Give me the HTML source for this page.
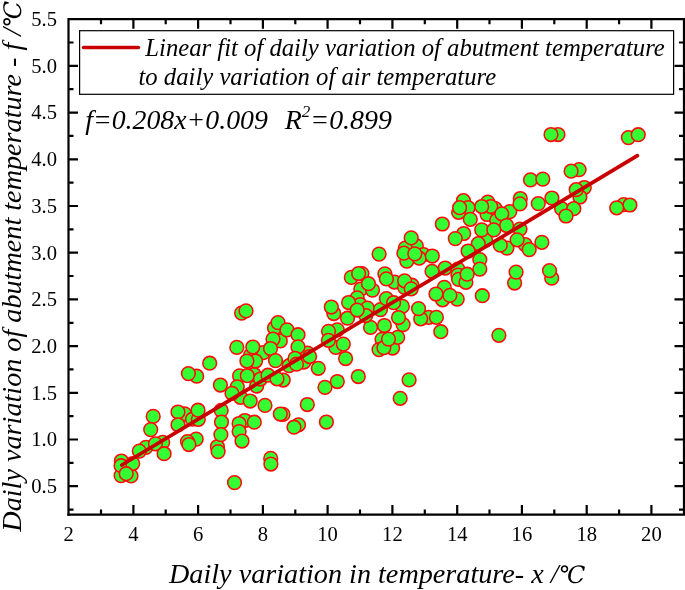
<!DOCTYPE html>
<html><head><meta charset="utf-8"><title>Linear fit</title>
<style>
html,body{margin:0;padding:0;background:#fff;}
svg{display:block;}
text{font-family:"Liberation Serif",serif;fill:#000;}
.it{font-style:italic;}
.tk{font-size:20.6px;}
.dc{font-family:"DejaVu Serif","Liberation Serif",serif;font-size:24px;}
</style></head><body>
<svg width="685" height="590" viewBox="0 0 685 590">
<rect width="685" height="590" fill="#fff"/>
<g fill="#33ff33" stroke="#ff0a0a" stroke-width="1.55">
<circle cx="121.4" cy="461.0" r="6.85"/><circle cx="121.1" cy="475.6" r="6.85"/><circle cx="131.0" cy="475.9" r="6.85"/><circle cx="145.9" cy="447.4" r="6.85"/><circle cx="162.7" cy="442.3" r="6.85"/><circle cx="184.6" cy="413.9" r="6.85"/><circle cx="192.4" cy="419.2" r="6.85"/><circle cx="198.3" cy="419.3" r="6.85"/><circle cx="196.2" cy="439.1" r="6.85"/><circle cx="187.5" cy="441.6" r="6.85"/><circle cx="217.4" cy="446.7" r="6.85"/><circle cx="244.8" cy="420.5" r="6.85"/><circle cx="283.0" cy="414.4" r="6.85"/><circle cx="298.5" cy="424.8" r="6.85"/><circle cx="270.7" cy="458.4" r="6.85"/><circle cx="240.5" cy="397.3" r="6.85"/><circle cx="256.7" cy="386.0" r="6.85"/><circle cx="241.6" cy="313.1" r="6.85"/><circle cx="274.5" cy="328.0" r="6.85"/><circle cx="280.3" cy="340.9" r="6.85"/><circle cx="263.2" cy="352.6" r="6.85"/><circle cx="250.4" cy="355.5" r="6.85"/><circle cx="289.1" cy="365.7" r="6.85"/><circle cx="239.6" cy="375.9" r="6.85"/><circle cx="254.0" cy="374.5" r="6.85"/><circle cx="283.2" cy="380.0" r="6.85"/><circle cx="237.3" cy="386.8" r="6.85"/><circle cx="196.7" cy="376.2" r="6.85"/><circle cx="337.3" cy="329.9" r="6.85"/><circle cx="335.8" cy="347.4" r="6.85"/><circle cx="382.0" cy="339.3" r="6.85"/><circle cx="379.0" cy="349.6" r="6.85"/><circle cx="392.6" cy="348.0" r="6.85"/><circle cx="397.7" cy="337.3" r="6.85"/><circle cx="333.8" cy="313.5" r="6.85"/><circle cx="307.4" cy="353.0" r="6.85"/><circle cx="303.8" cy="362.0" r="6.85"/><circle cx="351.3" cy="277.4" r="6.85"/><circle cx="361.9" cy="273.6" r="6.85"/><circle cx="360.8" cy="289.1" r="6.85"/><circle cx="372.5" cy="290.1" r="6.85"/><circle cx="384.9" cy="273.8" r="6.85"/><circle cx="357.2" cy="297.9" r="6.85"/><circle cx="360.1" cy="304.5" r="6.85"/><circle cx="367.4" cy="308.1" r="6.85"/><circle cx="380.5" cy="309.6" r="6.85"/><circle cx="445.2" cy="268.0" r="6.85"/><circle cx="457.9" cy="269.1" r="6.85"/><circle cx="457.9" cy="275.0" r="6.85"/><circle cx="458.6" cy="279.4" r="6.85"/><circle cx="465.9" cy="282.3" r="6.85"/><circle cx="394.4" cy="282.0" r="6.85"/><circle cx="404.6" cy="287.4" r="6.85"/><circle cx="411.9" cy="285.2" r="6.85"/><circle cx="444.3" cy="287.4" r="6.85"/><circle cx="457.2" cy="299.1" r="6.85"/><circle cx="442.6" cy="299.8" r="6.85"/><circle cx="428.7" cy="317.3" r="6.85"/><circle cx="402.4" cy="306.4" r="6.85"/><circle cx="403.1" cy="324.6" r="6.85"/><circle cx="463.4" cy="200.7" r="6.85"/><circle cx="468.1" cy="207.7" r="6.85"/><circle cx="458.6" cy="212.3" r="6.85"/><circle cx="487.8" cy="202.1" r="6.85"/><circle cx="487.1" cy="214.5" r="6.85"/><circle cx="463.7" cy="233.5" r="6.85"/><circle cx="485.6" cy="240.1" r="6.85"/><circle cx="416.3" cy="245.9" r="6.85"/><circle cx="405.3" cy="248.1" r="6.85"/><circle cx="423.6" cy="254.7" r="6.85"/><circle cx="579.1" cy="169.6" r="6.85"/><circle cx="520.3" cy="198.5" r="6.85"/><circle cx="584.3" cy="187.5" r="6.85"/><circle cx="579.9" cy="197.0" r="6.85"/><circle cx="561.6" cy="208.7" r="6.85"/><circle cx="495.2" cy="208.7" r="6.85"/><circle cx="509.8" cy="211.6" r="6.85"/><circle cx="496.7" cy="220.4" r="6.85"/><circle cx="520.0" cy="229.1" r="6.85"/><circle cx="506.9" cy="248.1" r="6.85"/><circle cx="525.1" cy="244.5" r="6.85"/><circle cx="514.6" cy="283.0" r="6.85"/><circle cx="551.7" cy="278.2" r="6.85"/><circle cx="628.4" cy="137.6" r="6.85"/><circle cx="558.0" cy="134.5" r="6.85"/><circle cx="623.7" cy="204.6" r="6.85"/><circle cx="629.9" cy="205.0" r="6.85"/><circle cx="121.1" cy="465.7" r="6.85"/><circle cx="132.7" cy="463.5" r="6.85"/><circle cx="126.2" cy="473.7" r="6.85"/><circle cx="139.3" cy="451.1" r="6.85"/><circle cx="155.4" cy="443.8" r="6.85"/><circle cx="164.1" cy="453.7" r="6.85"/><circle cx="153.2" cy="416.4" r="6.85"/><circle cx="150.7" cy="429.6" r="6.85"/><circle cx="178.0" cy="412.0" r="6.85"/><circle cx="178.0" cy="424.8" r="6.85"/><circle cx="198.0" cy="410.2" r="6.85"/><circle cx="188.9" cy="444.5" r="6.85"/><circle cx="221.2" cy="410.4" r="6.85"/><circle cx="221.5" cy="422.0" r="6.85"/><circle cx="220.9" cy="434.6" r="6.85"/><circle cx="218.1" cy="451.6" r="6.85"/><circle cx="239.1" cy="423.5" r="6.85"/><circle cx="239.1" cy="431.5" r="6.85"/><circle cx="242.0" cy="441.0" r="6.85"/><circle cx="254.3" cy="422.2" r="6.85"/><circle cx="250.2" cy="401.0" r="6.85"/><circle cx="265.0" cy="405.4" r="6.85"/><circle cx="280.3" cy="414.0" r="6.85"/><circle cx="294.0" cy="427.2" r="6.85"/><circle cx="270.9" cy="464.0" r="6.85"/><circle cx="232.0" cy="393.3" r="6.85"/><circle cx="220.4" cy="385.0" r="6.85"/><circle cx="246.0" cy="310.9" r="6.85"/><circle cx="278.0" cy="322.6" r="6.85"/><circle cx="287.0" cy="329.9" r="6.85"/><circle cx="273.0" cy="339.1" r="6.85"/><circle cx="298.0" cy="334.7" r="6.85"/><circle cx="298.0" cy="346.9" r="6.85"/><circle cx="236.8" cy="347.4" r="6.85"/><circle cx="252.8" cy="347.0" r="6.85"/><circle cx="270.5" cy="348.5" r="6.85"/><circle cx="255.5" cy="361.0" r="6.85"/><circle cx="275.5" cy="360.6" r="6.85"/><circle cx="209.7" cy="363.2" r="6.85"/><circle cx="295.0" cy="358.4" r="6.85"/><circle cx="296.5" cy="364.2" r="6.85"/><circle cx="247.3" cy="375.7" r="6.85"/><circle cx="260.5" cy="379.0" r="6.85"/><circle cx="268.0" cy="375.2" r="6.85"/><circle cx="277.0" cy="378.8" r="6.85"/><circle cx="188.4" cy="373.6" r="6.85"/><circle cx="328.5" cy="331.3" r="6.85"/><circle cx="328.4" cy="340.3" r="6.85"/><circle cx="343.3" cy="344.1" r="6.85"/><circle cx="345.6" cy="358.5" r="6.85"/><circle cx="318.3" cy="368.3" r="6.85"/><circle cx="358.3" cy="376.5" r="6.85"/><circle cx="337.3" cy="381.5" r="6.85"/><circle cx="325.0" cy="387.4" r="6.85"/><circle cx="307.3" cy="404.5" r="6.85"/><circle cx="400.2" cy="398.3" r="6.85"/><circle cx="370.5" cy="327.4" r="6.85"/><circle cx="384.4" cy="325.5" r="6.85"/><circle cx="383.9" cy="347.7" r="6.85"/><circle cx="347.5" cy="318.2" r="6.85"/><circle cx="365.8" cy="315.5" r="6.85"/><circle cx="398.5" cy="317.5" r="6.85"/><circle cx="309.6" cy="356.5" r="6.85"/><circle cx="379.1" cy="254.1" r="6.85"/><circle cx="358.6" cy="273.5" r="6.85"/><circle cx="368.4" cy="283.7" r="6.85"/><circle cx="386.4" cy="278.9" r="6.85"/><circle cx="386.4" cy="298.6" r="6.85"/><circle cx="348.6" cy="302.5" r="6.85"/><circle cx="357.2" cy="310.0" r="6.85"/><circle cx="331.3" cy="307.0" r="6.85"/><circle cx="406.8" cy="261.1" r="6.85"/><circle cx="419.2" cy="258.2" r="6.85"/><circle cx="432.3" cy="256.0" r="6.85"/><circle cx="432.0" cy="271.3" r="6.85"/><circle cx="479.8" cy="259.6" r="6.85"/><circle cx="479.8" cy="269.1" r="6.85"/><circle cx="467.1" cy="274.2" r="6.85"/><circle cx="404.6" cy="280.8" r="6.85"/><circle cx="411.2" cy="288.8" r="6.85"/><circle cx="436.0" cy="294.0" r="6.85"/><circle cx="449.9" cy="295.4" r="6.85"/><circle cx="482.3" cy="295.7" r="6.85"/><circle cx="420.7" cy="318.8" r="6.85"/><circle cx="436.4" cy="317.3" r="6.85"/><circle cx="440.8" cy="331.7" r="6.85"/><circle cx="393.6" cy="302.7" r="6.85"/><circle cx="442.3" cy="224.0" r="6.85"/><circle cx="459.6" cy="207.7" r="6.85"/><circle cx="470.3" cy="219.3" r="6.85"/><circle cx="455.3" cy="238.6" r="6.85"/><circle cx="481.7" cy="229.9" r="6.85"/><circle cx="478.3" cy="243.7" r="6.85"/><circle cx="468.1" cy="251.0" r="6.85"/><circle cx="411.2" cy="237.9" r="6.85"/><circle cx="403.9" cy="253.2" r="6.85"/><circle cx="414.8" cy="253.9" r="6.85"/><circle cx="530.5" cy="179.9" r="6.85"/><circle cx="542.8" cy="179.1" r="6.85"/><circle cx="571.1" cy="171.2" r="6.85"/><circle cx="520.0" cy="203.9" r="6.85"/><circle cx="538.3" cy="203.6" r="6.85"/><circle cx="551.9" cy="198.0" r="6.85"/><circle cx="576.2" cy="189.7" r="6.85"/><circle cx="573.8" cy="208.7" r="6.85"/><circle cx="566.0" cy="216.0" r="6.85"/><circle cx="490.8" cy="206.5" r="6.85"/><circle cx="501.8" cy="213.8" r="6.85"/><circle cx="506.6" cy="225.5" r="6.85"/><circle cx="493.8" cy="229.9" r="6.85"/><circle cx="517.1" cy="239.8" r="6.85"/><circle cx="500.3" cy="245.2" r="6.85"/><circle cx="529.2" cy="249.6" r="6.85"/><circle cx="541.9" cy="242.3" r="6.85"/><circle cx="516.1" cy="272.1" r="6.85"/><circle cx="549.5" cy="270.6" r="6.85"/><circle cx="498.9" cy="335.3" r="6.85"/><circle cx="638.2" cy="134.7" r="6.85"/><circle cx="551.0" cy="134.5" r="6.85"/><circle cx="616.7" cy="207.8" r="6.85"/><circle cx="409.1" cy="379.9" r="6.85"/><circle cx="326.4" cy="422.0" r="6.85"/><circle cx="234.5" cy="482.6" r="6.85"/><circle cx="246.9" cy="361.0" r="6.85"/><circle cx="388.5" cy="339.1" r="6.85"/><circle cx="418.5" cy="308.6" r="6.85"/><circle cx="481.7" cy="206.5" r="6.85"/>
</g>
<line x1="121.8" y1="465" x2="637.4" y2="155.6" stroke="#c80000" stroke-width="3.7" stroke-linecap="round"/>
<g stroke="#000" stroke-width="2.2" fill="none" stroke-linecap="butt">
<path d="M68.5 515.7V19.2H685.1"/><path d="M67.4 514.6H684.0V19.2"/>
<path d="M101.0 514.6v-5M101.0 19.2v5M133.4 514.6v-9.5M133.4 19.2v9.5M165.7 514.6v-5M165.7 19.2v5M198.1 514.6v-9.5M198.1 19.2v9.5M230.5 514.6v-5M230.5 19.2v5M262.9 514.6v-9.5M262.9 19.2v9.5M295.3 514.6v-5M295.3 19.2v5M327.6 514.6v-9.5M327.6 19.2v9.5M360.0 514.6v-5M360.0 19.2v5M392.4 514.6v-9.5M392.4 19.2v9.5M424.8 514.6v-5M424.8 19.2v5M457.2 514.6v-9.5M457.2 19.2v9.5M489.5 514.6v-5M489.5 19.2v5M521.9 514.6v-9.5M521.9 19.2v9.5M554.3 514.6v-5M554.3 19.2v5M586.7 514.6v-9.5M586.7 19.2v9.5M619.1 514.6v-5M619.1 19.2v5M651.4 514.6v-9.5M651.4 19.2v9.5M68.5 509.6h5M684.0 509.6h-5M68.5 486.2h9.5M684.0 486.2h-9.5M68.5 462.8h5M684.0 462.8h-5M68.5 439.5h9.5M684.0 439.5h-9.5M68.5 416.1h5M684.0 416.1h-5M68.5 392.8h9.5M684.0 392.8h-9.5M68.5 369.4h5M684.0 369.4h-5M68.5 346.1h9.5M684.0 346.1h-9.5M68.5 322.8h5M684.0 322.8h-5M68.5 299.4h9.5M684.0 299.4h-9.5M68.5 276.0h5M684.0 276.0h-5M68.5 252.7h9.5M684.0 252.7h-9.5M68.5 229.3h5M684.0 229.3h-5M68.5 206.0h9.5M684.0 206.0h-9.5M68.5 182.6h5M684.0 182.6h-5M68.5 159.3h9.5M684.0 159.3h-9.5M68.5 135.9h5M684.0 135.9h-5M68.5 112.6h9.5M684.0 112.6h-9.5M68.5 89.2h5M684.0 89.2h-5M68.5 65.9h9.5M684.0 65.9h-9.5M68.5 42.5h5M684.0 42.5h-5"/>
</g>
<text class="tk" x="68.6" y="541.2" text-anchor="middle">2</text><text class="tk" x="133.4" y="541.2" text-anchor="middle">4</text><text class="tk" x="198.1" y="541.2" text-anchor="middle">6</text><text class="tk" x="262.9" y="541.2" text-anchor="middle">8</text><text class="tk" x="327.6" y="541.2" text-anchor="middle">10</text><text class="tk" x="392.4" y="541.2" text-anchor="middle">12</text><text class="tk" x="457.2" y="541.2" text-anchor="middle">14</text><text class="tk" x="521.9" y="541.2" text-anchor="middle">16</text><text class="tk" x="586.7" y="541.2" text-anchor="middle">18</text><text class="tk" x="651.4" y="541.2" text-anchor="middle">20</text>
<text class="tk" x="57" y="493.0" text-anchor="end">0.5</text><text class="tk" x="57" y="446.3" text-anchor="end">1.0</text><text class="tk" x="57" y="399.6" text-anchor="end">1.5</text><text class="tk" x="57" y="352.9" text-anchor="end">2.0</text><text class="tk" x="57" y="306.2" text-anchor="end">2.5</text><text class="tk" x="57" y="259.5" text-anchor="end">3.0</text><text class="tk" x="57" y="212.8" text-anchor="end">3.5</text><text class="tk" x="57" y="166.1" text-anchor="end">4.0</text><text class="tk" x="57" y="119.4" text-anchor="end">4.5</text><text class="tk" x="57" y="72.7" text-anchor="end">5.0</text><text class="tk" x="57" y="26.0" text-anchor="end">5.5</text>
<rect x="79.6" y="30.7" width="594" height="63.6" fill="#fff" stroke="#000" stroke-width="1.2"/>
<line x1="83.5" y1="47.5" x2="138.5" y2="47.5" stroke="#c80000" stroke-width="3.4" stroke-linecap="round"/>
<text class="it" id="lg1" x="145.3" y="55.7" font-size="24.7">Linear fit of daily variation of abutment temperature</text>
<text class="it" id="lg2" x="138.5" y="84.9" font-size="24.7">to daily variation of air temperature</text>
<text class="it" id="eq1" x="85.2" y="128.7" font-size="27.8">f=0.208x+0.009</text>
<text class="it" id="eq2" x="284.8" y="128.7" font-size="27.9">R<tspan font-size="17" dy="-12">2</tspan><tspan dy="12">=0.899</tspan></text>
<text class="it" id="xl" x="169" y="583" font-size="28.2">Daily variation in temperature- x /<tspan class="dc">℃</tspan></text>
<text class="it" id="yl" transform="translate(20.5 531.7) rotate(-90)" font-size="28.2">Daily variation of abutment temperature - f /<tspan class="dc">℃</tspan></text>
</svg>
</body></html>
